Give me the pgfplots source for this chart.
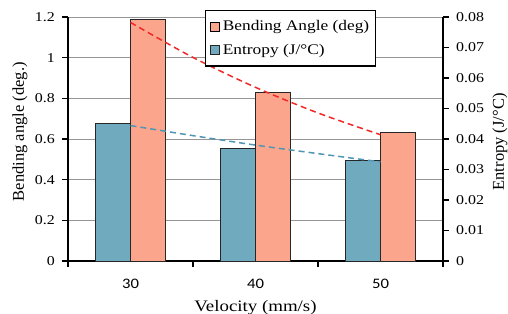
\documentclass[border=0pt]{standalone}
\usepackage{fontspec}
\setmainfont{Liberation Serif}
\newfontfamily\sfx{Liberation Serif}[FakeStretch=1.18]
\newfontfamily\calx{Carlito}[FakeStretch=1.15]
\usepackage{pgfplots}
\pgfplotsset{compat=1.18}
\definecolor{salmon}{RGB}{250,165,140}
\definecolor{tealbar}{RGB}{112,170,190}
\definecolor{redline}{RGB}{240,40,40}
\definecolor{blueline}{RGB}{80,150,180}
\definecolor{gridgray}{RGB}{150,150,150}
\begin{document}
\begin{tikzpicture}
\pgfplotsset{
  common/.style={scale only axis, width=375bp, height=244bp, xmin=-0.5, xmax=2.5,
    axis line style={line width=1.6bp, black, -},
    tick align=outside, major tick length=6bp, minor tick length=6bp,
    every tick/.style={black, line width=1.6bp},
    scaled y ticks=false,
    clip=false},
  sqimg/.style={legend image code/.code={\draw[##1, line width=0.8bp] (0bp,-4.5bp) rectangle (9bp,4.5bp);}},
}
\begin{axis}[common,
  axis x line*=bottom, axis y line*=left,
  ymin=0, ymax=1.2,
  ytick={0,0.2,0.4,0.6,0.8,1,1.2},
  yticklabels={0,0.2,0.4,0.6,0.8,1,1.2},
  yticklabel style={font=\sfx\fontsize{13.5bp}{15bp}\selectfont, anchor=east, inner sep=0pt, xshift=-7bp},
  ymajorgrids, major grid style={gridgray, line width=0.8bp},
  xtick={0,1,2}, xticklabels={30,40,50},
  major x tick style={draw=none},
  minor xtick={-0.5,0.5,1.5,2.5},
  xticklabel style={font=\calx\fontsize{14.5bp}{16bp}\selectfont, anchor=base, inner sep=0pt, yshift=-22bp},
  xlabel={Velocity (mm/s)},
  xlabel style={font=\sfx\fontsize{16bp}{18bp}\selectfont, at={(axis description cs:0.5,-0.208)}, anchor=base},
  ylabel={Bending angle (deg.)},
  ylabel style={font=\fontsize{16.5bp}{18bp}\selectfont, at={(axis description cs:-0.128,0.53)}, anchor=center},
]
\addplot[ybar, bar width=0.28, bar shift=0.14, fill=salmon, draw=black!85, line width=0.9bp]
  coordinates {(0,1.19) (1,0.83) (2,0.63)};
\addplot[redline, line width=1.5bp, dash pattern=on 6bp off 4bp, smooth]
  coordinates {(0,1.173) (0.5,1.001) (1,0.854) (1.5,0.728) (2,0.621)};
\end{axis}
\begin{axis}[common,
  axis y line*=right, axis x line=none,
  ymin=0, ymax=0.08,
  ytick={0,0.01,0.02,0.03,0.04,0.05,0.06,0.07,0.08},
  yticklabels={0,0.01,0.02,0.03,0.04,0.05,0.06,0.07,0.08},
  yticklabel style={font=\sfx\fontsize{13.5bp}{15bp}\selectfont, anchor=west, inner sep=0pt, xshift=7bp},
  ylabel={Entropy (J/°C)},
  ylabel style={font=\fontsize{16.5bp}{18bp}\selectfont, at={(axis description cs:1.152,0.488)}, anchor=center},
  legend style={at={(0.365,1.029)}, anchor=north west, draw=black, line width=1.3bp,
    font=\sfx\fontsize{14.7bp}{16bp}\selectfont, row sep=8bp, inner xsep=4bp, inner ysep=8bp},
  legend cell align=left,
]
\addlegendimage{sqimg, fill=salmon, draw=black}
\addlegendentry{\hspace*{1.5bp}Bending Angle (deg)}
\addplot[ybar, bar width=0.28, bar shift=-0.14, fill=tealbar, draw=black!85, line width=0.9bp, sqimg]
  coordinates {(0,0.045) (1,0.037) (2,0.033)};
\addlegendentry{\hspace*{1.5bp}Entropy (J/°C)}
\addplot[blueline, line width=1.5bp, dash pattern=on 6bp off 4bp, smooth, forget plot]
  coordinates {(0,0.0444) (0.5,0.0411) (1,0.0380) (1.5,0.0352) (2,0.0325)};
\end{axis}
\pgfresetboundingbox
\useasboundingbox ([shift={(-68bp,-53bp)}]current axis.south west) rectangle ([shift={(65bp,17bp)}]current axis.north east);
\end{tikzpicture}
\end{document}
